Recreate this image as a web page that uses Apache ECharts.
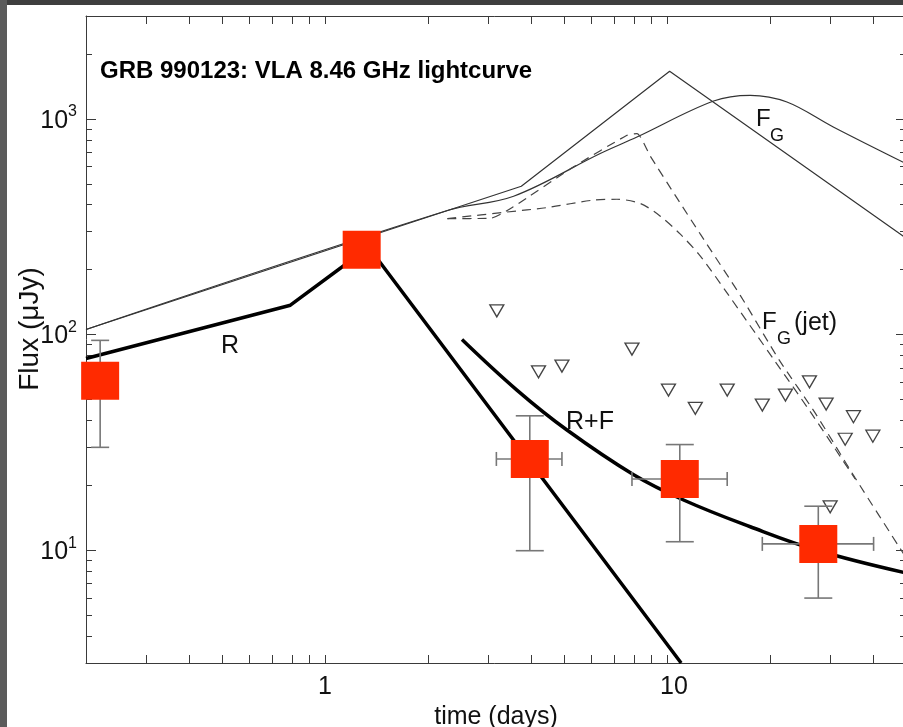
<!DOCTYPE html>
<html><head><meta charset="utf-8">
<script src="https://cdn.jsdelivr.net/npm/echarts@6/dist/echarts.min.js"></script>
<style>html,body{margin:0;padding:0;background:#fff;overflow:hidden}#c{width:903px;height:727px}</style>
</head><body><div id="c"></div>
<script>
// ---- data (time in days, flux in microJy) ----
const detTime   = [0.22, 1.28, 3.97, 10.9, 27.7];
const detFlux   = [61, 247, 26.5, 21.4, 10.7];
const detFluxLo = [30, null, 9.95, 10.95, 6.0];
const detFluxHi = [94, null, 42, 30.9, 16.0];
const detTimeLo = [null, null, 3.17, 7.9, 19.0];
const detTimeHi = [null, null, 4.93, 15.0, 40.2];

const limTime = [3.18, 4.21, 4.93, 7.90, 10.1, 12.1, 15.0, 19.0, 22.2, 26.1, 29.2, 35.1, 33.2, 40.0, 30.0];
const limFlux = [128.8, 67.2, 71.4, 85.6, 55.3, 45.5, 55.3, 47.1, 52.4, 60.4, 47.6, 41.6, 32.7, 33.8, 15.9];

const rTime  = [0.2, 0.792, 1.342, 11.0];
const rFlux  = [77.5, 136.8, 254, 3.0];

const rfTime = [2.515, 3.64, 5.10, 7.99, 11.18, 17.52, 27.46, 50];
const rfFlux = [94.9, 55.3, 36.1, 22.4, 17.1, 12.85, 10.0, 7.85];

const fbTime = [0.2, 3.75, 10.18, 50];
const fbFlux = [105.6, 487, 1662, 280];

const fgTime = [0.2, 2.28, 3.56, 6.38, 8.17, 13.69, 17.52, 22.43, 30.64, 50];
const fgFlux = [105.6, 376, 438, 691, 824, 1210, 1286, 1197, 917, 620];

const jet1Time = [2.28, 3.04, 3.55, 5.32, 7.64, 8.17, 8.94, 10.7, 12.52, 16.38, 21.3, 27.14, 35.53, 50];
const jet1Flux = [345, 346, 391, 598, 839, 855, 671, 429, 292, 152, 76.1, 43.2, 21.6, 9.24];

const jet2Time = [2.28, 3.40, 4.46, 6.09, 7.14, 8.36, 9.56, 10.94, 12.52, 14.98, 20.59, 26.42, 35.5];
const jet2Flux = [345, 370, 388, 420, 424, 405, 354, 292, 231, 156, 76.1, 43.2, 21.4];

const xMin = 0.2, xMax = 50, yMin = 3, yMax = 3000;
const xTickVals = [0.2,0.3,0.4,0.5,0.6,0.7,0.8,0.9,1,2,3,4,5,6,7,8,9,10,20,30,40,50];
const xLabelVals = [1, 10];
const yMajorVals = [10, 100, 1000];
const yMinorVals = [3,4,5,6,7,8,9,20,30,40,50,60,70,80,90,200,300,400,500,600,700,800,900,2000,3000];

const zip = (a, b) => a.map((v, i) => [v, b[i]]);

const AX = '#3a3a3a';
const FONT = '"Liberation Sans", Arial, Helvetica, sans-serif';

function xAxisDef(pos, showLabel) {
  return {
    type: 'log', logBase: 10, min: xMin, max: xMax, position: pos,
    axisLine: {show: true, lineStyle: {color: AX, width: 1}},
    axisTick: {show: true, inside: true, length: 8, customValues: xTickVals, lineStyle: {color: AX, width: 1}},
    minorTick: {show: false},
    splitLine: {show: false},
    axisLabel: showLabel ? {
      show: true, customValues: xLabelVals, margin: 12, color: '#111',
      fontFamily: FONT, fontSize: 25,
      formatter: v => (Math.round(v) >= 10 ? '{p|' + Math.round(v) + '}' : String(Math.round(v))),
      rich: {p: {fontFamily: FONT, fontSize: 25, color: '#111', padding: [0, 0, 0, 14]}}
    } : {show: false},
    name: showLabel ? 'time (days)' : '',
    nameLocation: 'middle', nameGap: 36,
    nameTextStyle: {fontFamily: FONT, fontSize: 25, color: '#111'}
  };
}
function yAxisDef(pos, major, showLabel, line) {
  return {
    type: 'log', logBase: 10, min: yMin, max: yMax, position: pos,
    axisLine: {show: line, lineStyle: {color: AX, width: 1}},
    axisTick: {show: true, inside: true, length: major ? 10 : 6,
      customValues: major ? yMajorVals : yMinorVals, lineStyle: {color: AX, width: 1}},
    splitLine: {show: false},
    axisLabel: showLabel ? {
      show: true, customValues: yMajorVals, margin: 9, color: '#111',
      fontFamily: FONT, fontSize: 25,
      formatter: v => '{b|10}{s|' + Math.round(Math.log10(v)) + '}',
      rich: {
        b: {fontFamily: FONT, fontSize: 25, color: '#111', padding: [4, 0, 0, 0]},
        s: {fontFamily: FONT, fontSize: 16, color: '#111', verticalAlign: 'top', padding: [0, 0, 14, 0]}
      }
    } : {show: false}
  };
}

const errData = detTime.map((t, i) => [t, detFlux[i],
  detFluxLo[i] == null ? '-' : detFluxLo[i], detFluxHi[i] == null ? '-' : detFluxHi[i],
  detTimeLo[i] == null ? '-' : detTimeLo[i], detTimeHi[i] == null ? '-' : detTimeHi[i]]);

function renderErr(params, api) {
  const t = api.value(0), f = api.value(1);
  const flo = api.value(2), fhi = api.value(3), tlo = api.value(4), thi = api.value(5);
  const st = {stroke: '#777', lineWidth: 1.6};
  const ch = [];
  if (isFinite(flo) && isFinite(fhi) && flo > 0) {
    const a = api.coord([t, fhi]), b = api.coord([t, flo]);
    const w = params.dataIndex === 0 ? 9 : 14;
    ch.push({type: 'line', shape: {x1: a[0], y1: a[1], x2: b[0], y2: b[1]}, style: st});
    ch.push({type: 'line', shape: {x1: a[0] - w, y1: a[1], x2: a[0] + w, y2: a[1]}, style: st});
    ch.push({type: 'line', shape: {x1: b[0] - w, y1: b[1], x2: b[0] + w, y2: b[1]}, style: st});
  }
  if (isFinite(tlo) && isFinite(thi) && tlo > 0) {
    const a = api.coord([tlo, f]), b = api.coord([thi, f]);
    ch.push({type: 'line', shape: {x1: a[0], y1: a[1], x2: b[0], y2: b[1]}, style: st});
    ch.push({type: 'line', shape: {x1: a[0], y1: a[1] - 7, x2: a[0], y2: a[1] + 7}, style: st});
    ch.push({type: 'line', shape: {x1: b[0], y1: b[1] - 7, x2: b[0], y2: b[1] + 7}, style: st});
  }
  return {type: 'group', children: ch};
}

const chart = echarts.init(document.getElementById('c'), null, {renderer: 'canvas'});
const lineBase = {type: 'line', showSymbol: false, symbol: 'none', silent: true, clip: true, animation: false};
const txt = (x, y, s, font, extra) => Object.assign({type: 'text', x: x, y: y, z: 50,
  style: Object.assign({text: s, font: font, fill: '#111'}, extra || {})});

chart.setOption({
  animation: false,
  backgroundColor: '#ffffff',
  grid: {left: 86, top: 16, width: 820, height: 647, containLabel: false, outerBoundsMode: 'none'},
  xAxis: [xAxisDef('bottom', true), xAxisDef('top', false)],
  yAxis: [yAxisDef('left', true, true, true), yAxisDef('left', false, false, false),
          yAxisDef('right', true, false, true), yAxisDef('right', false, false, false)],
  graphic: [
    {type: 'rect', left: 0, top: 0, shape: {width: 903, height: 5}, style: {fill: '#3e3e3e'}, z: 100},
    {type: 'rect', left: 0, top: 0, shape: {width: 7, height: 727}, style: {fill: '#5b5b5b'}, z: 100},
    txt(100, 59, 'GRB 990123: VLA 8.46 GHz lightcurve', 'bold 24px ' + FONT, {fill: '#000'}),
    {type: 'text', x: 30, y: 329, rotation: Math.PI / 2, z: 50,
     style: {text: 'Flux (\u03bcJy)', font: '28px ' + FONT, fill: '#111', align: 'center', verticalAlign: 'middle'}},
    txt(221, 334, 'R', '25px ' + FONT),
    txt(566, 410, 'R+F', '25px ' + FONT),
    txt(756, 107, 'F', '24px ' + FONT),
    txt(770, 127, 'G', '18px ' + FONT),
    txt(762, 310, 'F', '24px ' + FONT),
    txt(777, 330, 'G', '18px ' + FONT),
    txt(794, 311, '(jet)', '25px ' + FONT)
  ],
  series: [
    Object.assign({}, lineBase, {name: 'F broken', data: zip(fbTime, fbFlux), lineStyle: {color: '#333', width: 1.2}, z: 2}),
    Object.assign({}, lineBase, {name: 'F_G', data: zip(fgTime, fgFlux), smooth: 0.35, lineStyle: {color: '#333', width: 1.2}, z: 2}),
    Object.assign({}, lineBase, {name: 'F_G jet 1', data: zip(jet1Time, jet1Flux), smooth: 0.2, lineStyle: {color: '#444', width: 1.2, type: [9, 6]}, z: 2}),
    Object.assign({}, lineBase, {name: 'F_G jet 2', data: zip(jet2Time, jet2Flux), smooth: 0.3, lineStyle: {color: '#444', width: 1.2, type: [9, 6]}, z: 2}),
    Object.assign({}, lineBase, {name: 'R', data: zip(rTime, rFlux), lineStyle: {color: '#000', width: 3.5}, z: 3}),
    Object.assign({}, lineBase, {name: 'R+F', data: zip(rfTime, rfFlux), smooth: 0.4, lineStyle: {color: '#000', width: 3.5}, z: 3}),
    {type: 'scatter', name: 'limits', data: zip(limTime, limFlux), symbol: 'triangle', symbolRotate: 180,
     symbolSize: [14, 12], itemStyle: {color: '#fff', borderColor: '#444', borderWidth: 1.3, opacity: 1}, z: 4, silent: true},
    {type: 'custom', name: 'errors', data: errData, renderItem: renderErr, z: 5, silent: true,
     encode: {x: 0, y: 1}},
    {type: 'scatter', name: 'detections', data: zip(detTime, detFlux), symbol: 'rect', symbolSize: 38,
     itemStyle: {color: '#ff2a00', opacity: 1}, z: 6, silent: true}
  ]
});
</script>
</body></html>
